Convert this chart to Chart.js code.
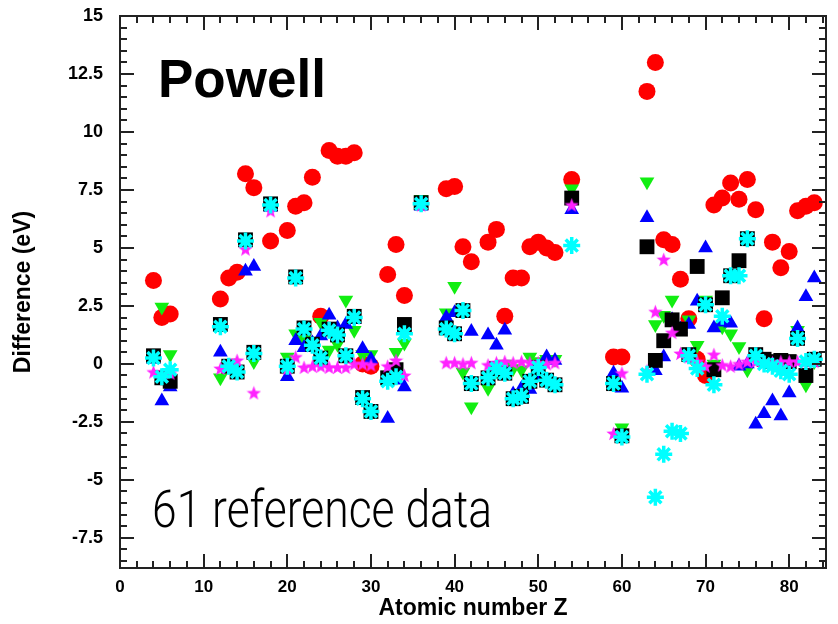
<!DOCTYPE html>
<html>
<head>
<meta charset="utf-8">
<script src="https://cdn.jsdelivr.net/npm/chart.js@4"></script>
<style>
  html, body { margin: 0; padding: 0; background: #fff; }
</style>
</head>
<body>
<canvas id="powellChart" width="838" height="624"></canvas>
<script>
// Atomic numbers of the 61 reference systems
const atomicZ = [4,5,6,12,13,14,15,16,18,20,21,22,23,24,25,26,27,28,29,30,32,33,34,36,39,40,41,42,44,45,46,47,48,49,50,51,52,54,59,60,63,64,65,66,67,68,69,70,71,72,73,74,75,76,77,78,79,80,81,82,83];

// differences (eV) for each method, same order as atomicZ
const redVals = [3.6,2.0,2.15,2.8,3.7,3.95,8.2,7.6,5.3,5.75,6.8,6.95,8.05,2.05,9.2,8.95,8.95,9.1,0.0,-0.1,3.85,5.15,2.95,null,7.55,7.65,5.05,4.4,5.25,5.8,2.05,3.7,3.7,5.05,5.25,5.0,4.8,7.95,0.3,0.3,11.75,13.0,5.35,5.15,3.65,1.95,0.2,-0.5,6.85,7.15,7.8,7.1,7.95,6.65,1.95,5.25,4.15,4.85,6.6,6.8,6.95];
const greenVals = [0.3,2.45,0.4,-0.6,-0.1,-0.3,5.4,0.1,7.0,0.3,1.3,1.05,0.9,1.8,0.6,0.85,2.75,1.45,0.4,0.4,-0.5,0.5,0.9,7.1,2.2,3.35,-0.35,-1.85,-1.05,-0.3,0.0,-0.2,-0.25,0.3,0.1,0.2,0.2,7.55,-0.7,-2.75,7.85,1.7,2.1,2.75,1.6,1.9,0.8,2.75,0.0,1.6,1.3,0.75,-0.25,0.3,0.2,0.2,0.15,0.2,1.45,-0.9,0.1];
const blueVals = [0.2,-1.6,-1.0,0.5,-0.2,-0.4,4.0,4.2,6.75,-0.55,1.0,0.7,0.9,1.2,2.1,1.55,1.7,1.9,0.65,0.2,-2.35,-0.7,-1.0,6.8,2.0,2.2,2.25,1.4,1.25,0.8,1.45,-1.3,-1.05,-1.1,-0.55,0.3,0.15,6.65,-0.4,-1.05,6.3,-0.3,0.3,1.9,1.5,1.7,2.7,5.0,1.55,1.8,1.75,-0.1,0.0,-2.6,-2.15,-1.6,-2.25,-1.25,1.55,2.9,3.7];
const blackVals = [0.35,-0.6,-0.75,1.7,-0.1,-0.35,5.35,0.5,6.9,-0.1,3.75,1.55,0.85,0.25,1.5,1.25,0.35,2.05,-1.45,-2.05,-0.6,-0.25,1.7,6.95,1.55,1.3,2.3,-0.85,-0.6,-0.2,-0.4,-1.5,-1.4,-0.75,-0.15,-0.7,-0.9,7.15,-0.85,-3.1,5.05,0.15,1.0,1.9,1.5,0.4,4.2,2.55,-0.25,2.85,3.8,4.45,5.4,0.4,0.2,0.1,0.15,0.1,1.1,-0.5,0.2];
const magentaVals = [-0.35,-0.5,-0.4,-0.2,-0.1,0.15,4.95,-1.25,6.6,-0.2,0.3,-0.15,-0.1,-0.1,-0.15,-0.15,-0.15,0.0,0.0,-0.05,-0.1,0.15,-0.5,6.85,0.05,0.05,0.0,0.05,-0.05,0.05,0.1,0.05,0.1,0.05,0.05,0.0,0.05,6.85,-3.0,-0.4,-0.3,2.25,4.5,1.35,0.45,0.3,0.1,-0.1,0.4,-0.05,-0.1,0.0,0.1,0.1,0.1,0.05,0.1,0.1,0.1,0.1,0.1];
const cyanVals = [0.25,-0.55,-0.25,1.6,-0.1,-0.35,5.3,0.45,6.85,-0.1,3.7,1.5,0.8,0.25,1.45,1.25,0.35,2.0,-1.5,-2.05,-0.75,-0.55,1.3,6.9,1.5,1.3,2.3,-0.85,-0.6,-0.2,-0.4,-1.5,-1.4,-0.75,-0.15,-0.7,-0.9,5.1,-0.85,-3.15,-0.45,-5.75,-3.9,-2.9,-3.0,0.35,-0.2,2.55,-0.9,2.05,3.8,3.8,5.4,0.35,0.0,-0.1,-0.3,-0.45,1.1,0.1,0.2];

const xTicks = [0,10,20,30,40,50,60,70,80];
const yTicks = [-7.5,-5,-2.5,0,2.5,5,7.5,10,12.5,15];

function toPoints(vals){
  let pts=[];
  vals.forEach((v,i)=>{ if(v!==null) pts.push({x:atomicZ[i],y:v}); });
  return pts;
}

// five-pointed magenta star marker
function makeStar(size,color){
  const c=document.createElement('canvas');
  c.width=size; c.height=size;
  const g=c.getContext('2d');
  const cx=size/2, cy=size/2+0.6, ro=size/2, ri=ro*0.42;
  g.beginPath();
  for(let k=0;k<10;k++){
    const r=(k%2===0)?ro:ri;
    const a=-Math.PI/2+k*Math.PI/5;
    const px=cx+r*Math.cos(a), py=cy+r*Math.sin(a);
    if(k===0) g.moveTo(px,py); else g.lineTo(px,py);
  }
  g.closePath();
  g.fillStyle=color;
  g.fill();
  return c;
}
const starImg=makeStar(15,'#ff22ff');

// frame with inward ticks and the two text labels
const framePlugin={
  id:'frame',
  afterDraw(chart){
    const ctx=chart.ctx;
    const a=chart.chartArea;
    const xs=chart.scales.x, ys=chart.scales.y;
    ctx.save();
    ctx.strokeStyle='#222';
    ctx.lineWidth=2;
    ctx.strokeRect(a.left,a.top,a.right-a.left,a.bottom-a.top);
    ctx.beginPath();
    for(let v=0; v<=xs.max; v+=2){
      const px=Math.round(xs.getPixelForValue(v));
      const len=(v%10===0)?14:7;
      ctx.moveTo(px,a.bottom); ctx.lineTo(px,a.bottom-len);
      ctx.moveTo(px,a.top); ctx.lineTo(px,a.top+len);
    }
    for(let i=-17; i<=30; i++){
      const v=i*0.5;
      if(v<ys.min||v>ys.max) continue;
      const py=Math.round(ys.getPixelForValue(v));
      const len=(i%5===0)?14:7;
      ctx.moveTo(a.left,py); ctx.lineTo(a.left+len,py);
      ctx.moveTo(a.right,py); ctx.lineTo(a.right-len,py);
    }
    ctx.stroke();

    ctx.fillStyle='#000';
    ctx.textBaseline='alphabetic';
    ctx.textAlign='left';
    ctx.font='bold 53px "Liberation Sans", Arial, sans-serif';
    ctx.fillText('Powell',a.left+38,a.top+81);

    ctx.font='300 51px Roboto, "Liberation Sans", Arial, sans-serif';
    const txt='61 reference data';
    const w=ctx.measureText(txt).width;
    ctx.translate(a.left+32,a.top+511);
    ctx.scale(340/w,1);
    ctx.fillText(txt,0,0);
    ctx.restore();
  }
};

const xTickFont={family:'"Liberation Sans", Arial, sans-serif',size:17,weight:'bold'};
const yTickFont={family:'"Liberation Sans", Arial, sans-serif',size:18,weight:'bold'};
const titleFont={family:'"Liberation Sans", Arial, sans-serif',size:23,weight:'bold'};

new Chart(document.getElementById('powellChart'),{
  type:'scatter',
  data:{
    datasets:[
      {label:'red',data:toPoints(redVals),pointStyle:'circle',pointRadius:8.5,backgroundColor:'#ff0000',borderColor:'#ff0000',borderWidth:0,order:6},
      {label:'green',data:toPoints(greenVals),pointStyle:'triangle',rotation:180,pointRadius:8.5,backgroundColor:'#11ee11',borderColor:'#11ee11',borderWidth:0,order:5},
      {label:'blue',data:toPoints(blueVals),pointStyle:'triangle',pointRadius:8.5,backgroundColor:'#0000ff',borderColor:'#0000ff',borderWidth:0,order:4},
      {label:'black',data:toPoints(blackVals),pointStyle:'rect',pointRadius:10.5,backgroundColor:'#000',borderColor:'#000',borderWidth:0,order:3},
      {label:'magenta',data:toPoints(magentaVals),pointStyle:starImg,pointRadius:7,backgroundColor:'#ff22ff',borderColor:'#ff22ff',order:2},
      {label:'cyan',data:toPoints(cyanVals),pointStyle:'star',pointRadius:8.5,backgroundColor:'#00ffff',borderColor:'#00ffff',borderWidth:3.5,order:1}
    ]
  },
  options:{
    responsive:false,
    animation:false,
    maintainAspectRatio:false,
    layout:{padding:{top:16,right:2,left:0,bottom:0}},
    plugins:{legend:{display:false},tooltip:{enabled:false}},
    scales:{
      x:{
        type:'linear',min:0,max:84.4,
        afterBuildTicks(s){ s.ticks=xTicks.map(v=>({value:v})); },
        afterFit(s){ s.height=56; s.paddingLeft=0; s.paddingRight=0; },
        grid:{display:false,drawTicks:false},
        border:{display:false},
        ticks:{color:'#000',font:xTickFont,padding:9,maxRotation:0,callback:(v)=>String(v)},
        title:{display:true,text:'Atomic number Z',color:'#000',font:titleFont,padding:{top:0,bottom:2}}
      },
      y:{
        type:'linear',min:-8.8,max:15,
        afterBuildTicks(s){ s.ticks=yTicks.map(v=>({value:v})); },
        afterFit(s){ s.width=120; s.paddingTop=0; s.paddingBottom=0; },
        grid:{display:false,drawTicks:false},
        border:{display:false},
        ticks:{color:'#000',font:yTickFont,padding:17,callback:(v)=>String(v)},
        title:{display:true,text:'Difference (eV)',color:'#000',font:titleFont,padding:{top:10,bottom:0}}
      }
    }
  },
  plugins:[framePlugin]
});
</script>
</body>
</html>
